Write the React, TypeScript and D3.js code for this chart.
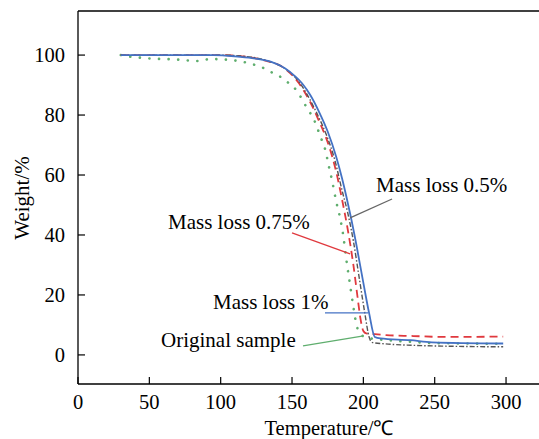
import React from "react";
import * as d3 from "d3";

type Pt = [number, number];

const xTicks = [0, 50, 100, 150, 200, 250, 300];
const yTicks = [0, 20, 40, 60, 80, 100];

const blue1pct: Pt[] = [
  [30, 100], [95, 100], [110, 99.6], [122, 99], [135, 97.8], [145, 95.6], [152, 93],
  [157, 90.6], [163, 86.5], [169, 81], [175, 74.5], [181, 66], [185, 59], [188, 53],
  [191, 46.5], [195, 37], [200, 24], [204, 14], [208, 6], [212, 5.5], [233, 4.9], [248, 4.2],
  [298, 3.8],
];

const red075pct: Pt[] = [
  [30, 100], [100, 100], [115, 99.6], [130, 98.3], [145, 95.5], [155, 90.5], [162, 85],
  [168, 79], [176, 69.5], [181, 61], [185, 52], [189, 42], [193, 30], [196, 19], [198, 12],
  [200, 8], [202, 7.2], [208, 6.9], [216, 6.6], [235, 6.3], [255, 6], [298, 6.1],
];

const gray05pct: Pt[] = [
  [30, 100], [100, 100], [118, 99.5], [132, 98.2], [145, 95.5], [155, 91], [161, 86.5],
  [168, 80], [174, 73.5], [180, 65], [185, 55], [189, 47.5], [193, 38], [197, 26], [201, 14],
  [204, 6], [206, 4.2], [215, 3.7], [235, 3.2], [260, 2.9], [298, 2.7],
];

const greenOriginal: Pt[] = [
  [30, 100], [37, 99.4], [45, 99.1], [52, 98.8], [60, 98.7], [70, 98.5], [80, 98.1],
  [86, 98.0], [92, 98.7], [100, 98.6], [108, 98.3], [115, 97.8], [122, 97], [129, 95.9],
  [135, 94.4], [141, 93], [147, 90.9], [153, 88.3], [157, 85.3], [161, 81.9], [165, 78.9],
  [168, 75.3], [171, 71.5], [173, 68.9], [176, 62.5], [178, 58.3], [181, 51.1], [184, 45],
  [186, 39.5], [188, 32], [190.5, 24], [193, 16], [195.5, 9.4], [199, 6.5], [204, 5.6],
  [215, 5], [233, 4.4], [245, 4], [298, 3.7],
];

const annotLabels = ["Mass loss 0.5%", "Mass loss 0.75%", "Mass loss 1%", "Original sample"];
const annotTextPos: Pt[] = [[208.9, 54.3], [63.1, 42], [94.6, 15.3], [58.2, 2.7]];
const annotLineFrom: Pt[] = [[220.1, 52], [150, 40.7], [173.1, 14], [157.7, 3]];
const annotLineTo: Pt[] = [[190.7, 45.7], [190.7, 33.7], [203.3, 14], [199.1, 6.3]];
const annotColors = ["#666666", "#e0393e", "#4472c4", "#5fae6e"];

const W = 539;
const H = 439;
const FONT = "'Liberation Serif', 'Times New Roman', serif";

export default function App() {
  const x = d3.scaleLinear().domain([0, 323.1]).range([78, 539]);
  const y = d3.scaleLinear().domain([-9.7, 114.7]).range([384, 11]);
  const line = d3
    .line<Pt>()
    .x((d) => x(d[0]))
    .y((d) => y(d[1]))
    .curve(d3.curveMonotoneX);

  const x0 = x(0);
  const yTop = y(114.7);
  const yBot = y(-9.7);

  return (
    <svg
      width={W}
      height={H}
      style={{ position: "absolute", left: 0, top: 0, background: "#fff" }}
      fontFamily={FONT}
    >
      <rect x={0} y={0} width={W} height={H} fill="#fff" />
      {/* axes */}
      <line x1={x0} x2={W} y1={yTop} y2={yTop} stroke="#000" strokeWidth={1.3} />
      <line x1={x0} x2={W} y1={yBot} y2={yBot} stroke="#000" strokeWidth={1.3} />
      <line x1={x0} x2={x0} y1={yTop} y2={yBot} stroke="#000" strokeWidth={1.3} />
      {yTicks.map((t) => (
        <g key={"y" + t}>
          <line x1={x0} x2={x0 + 7} y1={y(t)} y2={y(t)} stroke="#000" strokeWidth={1.2} />
          <text x={65} y={y(t)} dy="0.35em" textAnchor="end" fontSize={20.5} fill="#000">
            {t}
          </text>
        </g>
      ))}
      {xTicks.map((t) => (
        <g key={"x" + t}>
          <line x1={x(t)} x2={x(t)} y1={yBot} y2={yBot - 7} stroke="#000" strokeWidth={1.2} />
          <text x={x(t)} y={409} textAnchor="middle" fontSize={20.5} fill="#000">
            {t}
          </text>
        </g>
      ))}
      <text x={329} y={435} textAnchor="middle" fontSize={20.5} fill="#000">
        Temperature/℃
      </text>
      <text
        transform={`translate(29,${198}) rotate(-90)`}
        textAnchor="middle"
        fontSize={21}
        fill="#000"
      >
        Weight/%
      </text>

      {/* curves */}
      <path d={line(greenOriginal) || ""} fill="none" stroke="#5fae6e" strokeWidth={2.6}
        strokeDasharray="0.1 9.5" strokeLinecap="round" />
      <path d={line(red075pct) || ""} fill="none" stroke="#e0393e" strokeWidth={1.8}
        strokeDasharray="8 5" />
      <path d={line(gray05pct) || ""} fill="none" stroke="#555555" strokeWidth={1.4}
        strokeDasharray="5 2 1.5 2" />
      <path d={line(blue1pct) || ""} fill="none" stroke="#4472c4" strokeWidth={1.8} />

      {/* annotations */}
      {annotLabels.map((lab, i) => (
        <g key={lab}>
          <line
            x1={x(annotLineFrom[i][0])}
            y1={y(annotLineFrom[i][1])}
            x2={x(annotLineTo[i][0])}
            y2={y(annotLineTo[i][1])}
            stroke={annotColors[i]}
            strokeWidth={1.3}
          />
          <text x={x(annotTextPos[i][0])} y={y(annotTextPos[i][1])} fontSize={21} fill="#000">
            {lab}
          </text>
        </g>
      ))}
    </svg>
  );
}
